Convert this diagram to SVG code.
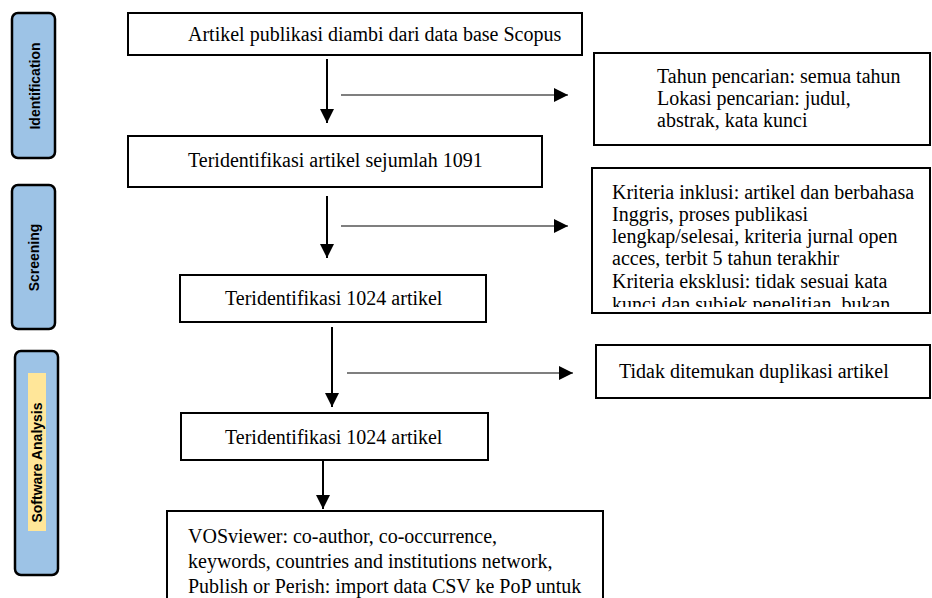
<svg xmlns="http://www.w3.org/2000/svg" width="932" height="598" viewBox="0 0 932 598">
<style>
.box{fill:#fff;stroke:#000;stroke-width:2}
.stage{fill:#9dc3e6;stroke:#000;stroke-width:2.5}
.t{font-family:'Liberation Serif','Times New Roman',serif;font-size:20px;fill:#000}
.s{font-family:'Liberation Sans',Arial,sans-serif;font-size:14px;font-weight:bold;fill:#000}
.v{stroke:#000;stroke-width:2;fill:none}
.h{stroke:#000;stroke-width:1.2;fill:none}
</style>
<defs>
<marker id="ah" viewBox="0 0 10 10" refX="10" refY="5" markerUnits="userSpaceOnUse" markerWidth="15" markerHeight="14" orient="auto">
<path d="M0,0 L10,5 L0,10 Z" fill="#000"/>
</marker>
<clipPath id="kc"><rect x="592" y="168" width="340" height="139"/></clipPath>
</defs>
<g id="stage-identification">
<rect class="stage" x="12" y="13" width="43" height="145" rx="6"/>
<text class="s" transform="translate(39.5,86) rotate(-90)" text-anchor="middle">Identification</text>
</g>
<g id="stage-screening">
<rect class="stage" x="12" y="185" width="43" height="144" rx="6"/>
<text class="s" transform="translate(39,257.5) rotate(-90)" text-anchor="middle">Screening</text>
</g>
<g id="stage-software">
<rect class="stage" x="15" y="351" width="43" height="224" rx="6"/>
<rect x="28" y="373" width="18" height="158" fill="#ffe699"/>
<text class="s" transform="translate(42,462.5) rotate(-90)" text-anchor="middle">Software Analysis</text>
</g>
<g id="connectors">
<line class="v" x1="327" y1="59" x2="327" y2="123" marker-end="url(#ah)"/>
<line class="h" x1="341" y1="95" x2="568" y2="95" marker-end="url(#ah)"/>
<line class="v" x1="327" y1="196" x2="327" y2="258" marker-end="url(#ah)"/>
<line class="h" x1="341" y1="226" x2="568" y2="226" marker-end="url(#ah)"/>
<line class="v" x1="332" y1="327" x2="332" y2="407" marker-end="url(#ah)"/>
<line class="h" x1="347" y1="373" x2="573" y2="373" marker-end="url(#ah)"/>
<line class="v" x1="323" y1="460" x2="323" y2="509" marker-end="url(#ah)"/>
</g>
<g id="n1">
<rect class="box" x="128" y="13" width="454" height="42"/>
<text class="t" x="188" y="41">Artikel publikasi diambi dari data base Scopus</text>
</g>
<g id="n2">
<rect class="box" x="128" y="136" width="414" height="51"/>
<text class="t" x="188" y="167">Teridentifikasi artikel sejumlah 1091</text>
</g>
<g id="n3">
<rect class="box" x="180" y="275" width="306" height="47"/>
<text class="t" x="225" y="305">Teridentifikasi 1024 artikel</text>
</g>
<g id="n4">
<rect class="box" x="181" y="413" width="307" height="47"/>
<text class="t" x="225" y="444">Teridentifikasi 1024 artikel</text>
</g>
<g id="n5">
<rect class="box" x="167" y="511" width="436" height="100"/>
<text class="t" x="188" y="543">VOSviewer: co-author, co-occurrence,</text>
<text class="t" x="188" y="568">keywords, countries and institutions network,</text>
<text class="t" x="188" y="593">Publish or Perish: import data CSV ke PoP untuk</text>
</g>
<g id="r1">
<rect class="box" x="594" y="53" width="336" height="92"/>
<text class="t" x="657" y="83">Tahun pencarian: semua tahun</text>
<text class="t" x="657" y="105">Lokasi pencarian: judul,</text>
<text class="t" x="657" y="127">abstrak, kata kunci</text>
</g>
<g id="r2">
<rect class="box" x="592" y="168" width="338" height="145"/>
<g clip-path="url(#kc)">
<text class="t" x="612" y="199">Kriteria inklusi: artikel dan berbahasa</text>
<text class="t" x="612" y="221">Inggris, proses publikasi</text>
<text class="t" x="612" y="243">lengkap/selesai, kriteria jurnal open</text>
<text class="t" x="612" y="265">acces, terbit 5 tahun terakhir</text>
<text class="t" x="612" y="288">Kriteria eksklusi: tidak sesuai kata</text>
<text class="t" x="612" y="311">kunci dan subjek penelitian, bukan</text>
</g>
</g>
<g id="r3">
<rect class="box" x="596" y="345" width="334" height="53"/>
<text class="t" x="619" y="378">Tidak ditemukan duplikasi artikel</text>
</g>
</svg>
